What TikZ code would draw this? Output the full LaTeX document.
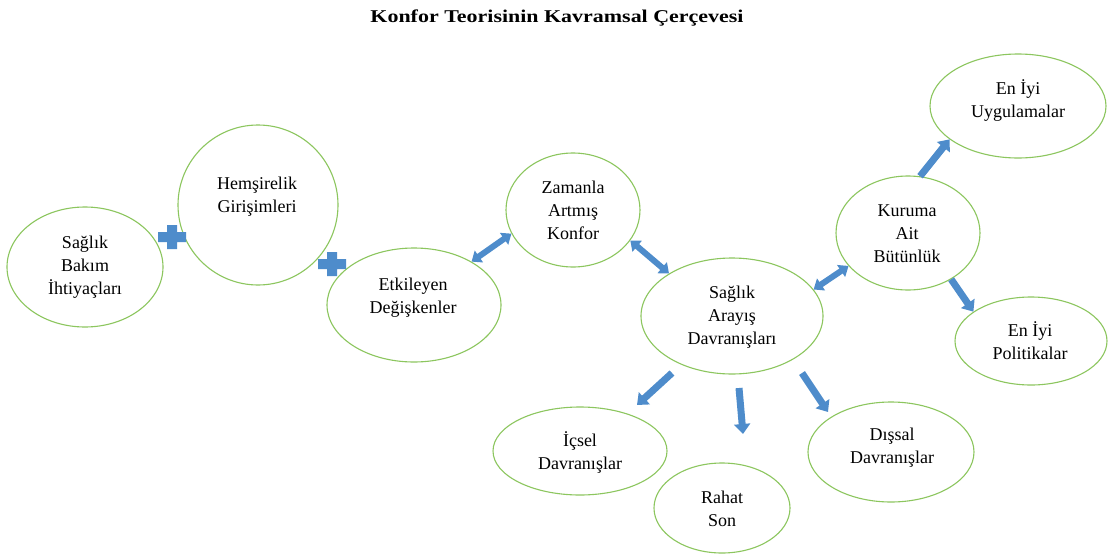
\documentclass[tikz,border=0pt]{standalone}
\usepackage{fontspec}
\setmainfont{Liberation Serif}
\usetikzlibrary{shapes.geometric,arrows.meta}
\definecolor{elgreen}{HTML}{8CC65E}
\definecolor{arblue}{HTML}{4E8CCB}
\tikzset{
  elli/.style={ellipse, draw=elgreen, line width=1.1pt, fill=white, inner sep=0pt},
  lbl/.style={align=center, font=\fontsize{18}{23}\selectfont, inner sep=0pt},
  barrow/.style={draw=arblue, line width=7pt, -{Triangle[width=16pt,length=10pt]}},
  dbarrow/.style={draw=arblue, line width=6pt, {Triangle[width=14pt,length=9pt]}-{Triangle[width=14pt,length=9pt]}},
  plussign/.pic={\fill[arblue] (-14,-5) -- (-5,-5) -- (-5,-12) -- (5,-12) -- (5,-5) -- (14,-5) -- (14,5) -- (5,5) -- (5,12) -- (-5,12) -- (-5,5) -- (-14,5) -- cycle;}
}
\begin{document}
\begin{tikzpicture}[x=1pt,y=-1pt]
\useasboundingbox (0,0) rectangle (1109,557);
\fill[white] (0,0) rectangle (1109,557);

\node[font=\bfseries\fontsize{18}{20}\selectfont, inner sep=0pt] (title) at (557,18) {\scalebox{1.22}[1]{Konfor Teorisinin Kavramsal Çerçevesi}};

% ellipses
\node[elli, minimum width=156pt, minimum height=120pt] (sbi) at (85,267) {};
\node[elli, minimum width=160pt, minimum height=160pt] (hem) at (258,205) {};
\node[elli, minimum width=174pt, minimum height=114pt] (etk) at (414,305) {};
\node[elli, minimum width=134pt, minimum height=114pt] (zam) at (573,210) {};
\node[elli, minimum width=182pt, minimum height=116pt] (sa) at (732,316) {};
\node[elli, minimum width=144pt, minimum height=114pt] (kur) at (908,233) {};
\node[elli, minimum width=176pt, minimum height=104pt] (uyg) at (1018,106) {};
\node[elli, minimum width=152pt, minimum height=88pt] (pol) at (1031,341) {};
\node[elli, minimum width=174pt, minimum height=88pt] (ics) at (580,451) {};
\node[elli, minimum width=136pt, minimum height=90pt] (rah) at (722,508) {};
\node[elli, minimum width=166pt, minimum height=100pt] (dis) at (891,452) {};

% labels
\node[lbl] (sbit) at (85,267) {Sağlık\\Bakım\\İhtiyaçları};
\node[lbl] (hemt) at (257,197) {Hemşirelik\\Girişimleri};
\node[lbl] (etkt) at (413,298) {Etkileyen\\Değişkenler};
\node[lbl] (zamt) at (573,210) {Zamanla\\Artmış\\Konfor};
\node[lbl] (sat) at (732,317) {Sağlık\\Arayış\\Davranışları};
\node[lbl] (kurt) at (907,234) {Kuruma\\Ait\\Bütünlük};
\node[lbl] (uygt) at (1018,101) {En İyi\\Uygulamalar};
\node[lbl] (polt) at (1030,341) {En İyi\\Politikalar};
\node[lbl] (icst) at (580,452) {İçsel\\Davranışlar};
\node[lbl] (raht) at (722,509) {Rahat\\Son};
\node[lbl] (dist) at (892,448) {Dışsal\\Davranışlar};

% plus signs
\pic at (172,237) {plussign};
\pic at (332,264) {plussign};

% arrows
\draw[dbarrow] (etk.37) -- (zam.201);
\draw[dbarrow] (zam.332) -- (sa.146);
\draw[dbarrow] (sa.18) -- (kur.209);
\draw[barrow] (kur.78) -- (uyg.206);
\draw[barrow] (kur.-47) -- (pol.153);

\coordinate (a1) at (672,373);
\coordinate (a2) at (637,405);
\coordinate (b1) at (739,388);
\coordinate (b2) at (743,434);
\coordinate (c1) at (802,373);
\coordinate (c2) at (828,412);
\draw[barrow] (a1) -- (a2);
\draw[barrow] (b1) -- (b2);
\draw[barrow] (c1) -- (c2);
\end{tikzpicture}
\end{document}
